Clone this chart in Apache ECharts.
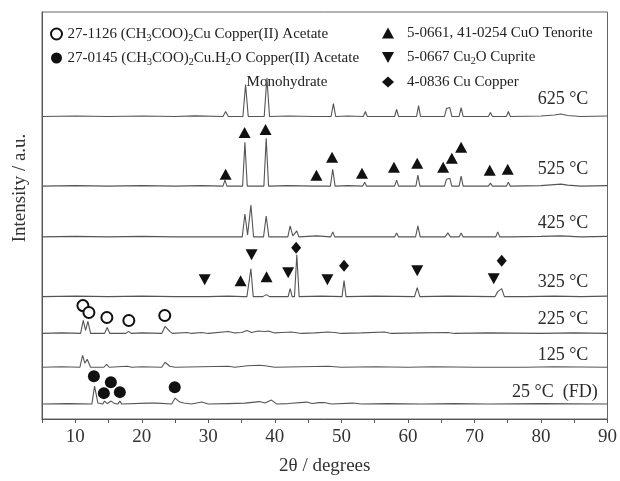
<!DOCTYPE html>
<html style="height: 100%">
<head>
<meta charset="utf-8">
</head>
<body style="height: 100%; margin: 0; background: #fff">
<div id="container" style="width: 620px; height: 481px"></div>
<script src="https://cdn.jsdelivr.net/npm/echarts@6/dist/echarts.min.js"></script>
<script>
// XRD traces, [2theta, intensity above own baseline]
var p625 = [[5,0],[10,0.5],[15,0],[20,0.5],[25,0],[28,0.6],[32.2,0],[32.6,5],[33.0,0],[35.2,0],[35.6,32],[36.0,0],[38.4,0],[38.8,39],[39.2,0],[42,0.5],[46,0],[46.3,1.5],[46.6,0],[48.45,0],[48.8,13],[49.15,0],[51,0.5],[53.3,0],[53.6,5],[53.9,0],[58.0,0],[58.3,7],[58.6,0],[61.3,0],[61.6,11],[61.9,0],[65.5,0],[65.8,8],[66.05,6],[66.3,9],[66.6,0],[67.7,0],[68.0,9],[68.3,0],[72.1,0],[72.4,4],[72.7,0],[74.8,0],[75.1,5],[75.4,0],[80,0.5],[82,1.5],[83,2.5],[84,1],[86,0],[90,0.5]];
var p525 = [[5,0],[10,0.5],[15,0],[20,0.5],[25,0],[29,0.5],[32.2,0],[32.5,6],[32.8,0],[35.15,0],[35.5,44],[35.85,0],[38.35,0],[38.7,48],[39.05,0],[42,0.5],[46.0,0],[46.3,2],[46.6,0],[48.35,0],[48.7,17],[49.05,0],[51,0.5],[53.2,0],[53.5,4],[53.8,0],[58.0,0],[58.3,6],[58.6,0],[61.2,0],[61.5,11],[61.8,0],[65.5,0],[65.8,7],[66.0,5],[66.3,8],[66.6,0],[67.7,0],[68.0,10],[68.3,0],[72.1,0],[72.4,3],[72.7,0],[74.8,0],[75.1,4],[75.4,0],[80,0.5],[82,1.5],[83,2],[84,1],[86,0],[90,0.5]];
var p425 = [[5,0],[10,0.5],[15,0],[20,0.5],[25,0],[29.3,0],[29.6,1.5],[29.9,0],[32.2,0],[32.5,2],[32.8,0],[35.1,0],[35.5,23],[35.9,2],[36.4,32],[36.8,0],[38.3,0],[38.7,21],[39.1,0],[41.95,0],[42.3,11],[42.7,1],[43.3,6],[43.6,0],[46.3,1],[48.4,0],[48.7,5],[49.0,0],[50.1,0],[50.4,2],[50.7,0],[53.2,0],[53.5,2],[53.8,0],[58.0,0],[58.3,4],[58.6,0],[61.15,0],[61.5,11],[61.85,0],[65.6,0],[66.0,4],[66.4,0],[67.7,0],[68.0,4],[68.3,0],[72.1,0],[72.4,2],[72.7,0],[73.2,0],[73.5,5],[73.8,0],[74.8,0],[75.1,2],[75.4,0],[80,0.5],[83,1],[86,0],[90,0.5]];
var p325 = [[5,0],[10,0.5],[15,0],[20,0.5],[25,0],[29.3,0],[29.6,1.5],[29.9,0],[33,0.5],[35.2,0],[35.5,2],[35.8,0],[36.05,0],[36.4,28],[36.75,0],[38.2,0],[38.7,2],[39.2,0],[42.0,0],[42.3,8],[42.6,0],[42.95,0],[43.3,42],[43.65,0],[47,0.5],[50.1,0],[50.4,16],[50.7,0],[55,0.5],[61.0,0],[61.4,9],[61.8,0],[66,0.5],[73.1,0],[73.5,5],[73.8,3],[74.1,8],[74.5,0],[77.0,0],[77.3,1],[77.6,0],[82,0.5],[86,0],[90,0.5]];
var p225 = [[5,0],[8,0.5],[10.8,0],[11.2,13],[11.55,3],[11.9,12],[12.3,0],[14.4,0],[14.8,6],[15.2,0],[17.6,0],[18.0,2],[18.4,0],[20,0.5],[23.0,0],[23.5,7],[24.2,2],[24.6,0],[26.8,1],[27.5,0],[29,1],[30,0],[33,2],[34,0.5],[35,1],[35.8,3],[36.5,1],[37.5,2.5],[37.8,3],[38.5,2],[39,2.5],[40,0.5],[41,1],[42.5,1.5],[44,0],[46,0.5],[48,1.5],[49,1],[50,0],[53,0.5],[56.5,1.5],[57.5,0],[62,0.5],[66,1],[67,0],[72,0.5],[80,0],[85,0.5],[90,0]];
var p125 = [[5,0],[8,0.5],[10.7,0],[11.1,12],[11.45,4],[11.8,8],[12.3,0],[14.3,0],[14.7,3],[15.1,0],[17.8,1],[18.5,0],[20,0.5],[23.0,0],[23.5,5],[24.2,1],[25,0],[29,0.5],[33,1],[34,0],[35.9,1.5],[37.7,2],[38.5,1.5],[40,0],[44,0.5],[48,1],[50,0],[55,0.5],[60,0],[64,0.5],[70,0],[77.1,0],[77.4,2],[77.7,0],[82,0.5],[90,0]];
var p25 = [[5,0],[9,0.5],[12.5,0],[12.9,18],[13.4,1],[14.1,0],[14.4,3],[14.8,0.5],[15.4,3],[15.9,0.5],[16.4,0],[16.7,3],[17.0,0],[20.9,1],[22.3,1],[24.5,0],[25.0,6],[25.7,2],[26.3,1],[27.5,0],[29,2],[30,0],[33,0.5],[35.5,1],[37.7,2.5],[38.5,1],[39.5,4],[40.3,0],[42,0.5],[44.8,2],[45.6,0.5],[46.7,1.5],[47.4,1.5],[48.5,0],[51.7,1],[53,0],[57,0.5],[62,0],[67,0.5],[72,0],[80,0.5],[90,0]];

var patterns = [p625, p525, p425, p325, p225, p125, p25];
var offsets = [304, 234, 183, 123, 86, 52, 15];
var tempLabels = ['625 °C', '525 °C', '425 °C', '325 °C', '225 °C', '125 °C', '25 °C  (FD)'];
var labelPos = [[87.2, 321], [87.2, 251], [87.2, 197], [87.2, 137], [87.2, 100], [87.2, 64], [88.6, 27]];

// phase markers, [2theta, stacked intensity]
var acetate = [[11.15, 114], [12.05, 107], [14.75, 102], [18.05, 99], [23.45, 104]];
var monohydrate = [[12.8, 43], [14.3, 26], [15.35, 37], [16.7, 27], [24.95, 32]];
var tenorite = [[34.85, 139], [38.75, 143], [32.6, 246], [35.45, 288], [38.6, 291], [46.25, 245], [48.6, 263], [53.1, 247], [57.9, 253], [61.4, 257], [65.3, 253], [66.6, 262], [68.0, 273], [72.3, 250], [75.0, 251]];
var cuprite = [[29.45, 140], [36.5, 165], [42.0, 147], [47.9, 140], [61.4, 149], [72.9, 141]];
var copper = [[43.2, 172], [50.4, 154], [74.1, 159]];

var xTicks = [10, 20, 30, 40, 50, 60, 70, 80, 90];

var serif = 'Liberation Serif';
var ink = '#111';
var downTri = 'path://M0,0L12,0L6,11Z';

var series = patterns.map(function (p, i) {
    return {
        type: 'line',
        symbol: 'none',
        silent: true,
        lineStyle: { color: '#555', width: 1.1 },
        data: p.map(function (d) { return [d[0], d[1] + offsets[i]]; })
    };
});
series.push({
    type: 'scatter',
    silent: true,
    symbolSize: 1,
    itemStyle: { color: 'rgba(0,0,0,0)', opacity: 1 },
    label: {
        show: true, position: 'left', distance: 0,
        fontFamily: serif, fontSize: 18, color: '#2a2a2a',
        formatter: function (p) { return tempLabels[p.dataIndex]; }
    },
    data: labelPos
});
var markerDefs = [
    { name: 'acetate', symbol: 'emptyCircle', size: 11, data: acetate },
    { name: 'monohydrate', symbol: 'circle', size: 12, data: monohydrate },
    { name: 'tenorite', symbol: 'triangle', size: [12, 11], data: tenorite },
    { name: 'cuprite', symbol: downTri, size: [12, 11], data: cuprite },
    { name: 'copper', symbol: 'diamond', size: [10, 12], data: copper }
];
markerDefs.forEach(function (m) {
    series.push({
        name: m.name,
        type: 'scatter',
        symbol: m.symbol,
        symbolSize: m.size,
        itemStyle: { color: ink, opacity: 1, borderColor: ink, borderWidth: m.symbol === 'emptyCircle' ? 1.5 : 0 },
        data: m.data
    });
});

var legendText = {
    acetate: '27-1126 (CH{s|3}COO){s|2}Cu Copper(II) Acetate',
    monohydrate: '27-0145 (CH{s|3}COO){s|2}Cu.H{s|2}O Copper(II) Acetate',
    tenorite: '5-0661, 41-0254 CuO Tenorite',
    cuprite: '5-0667 Cu{s|2}O Cuprite',
    copper: '4-0836 Cu Copper'
};
var legendStyle = {
    fontFamily: serif, fontSize: 15, color: '#222', lineHeight: 18,
    rich: { s: { fontFamily: serif, fontSize: 10, color: '#222', verticalAlign: 'bottom', lineHeight: 14 } }
};

var dom = document.getElementById('container');
var myChart = echarts.init(dom);
var option = {
    animation: false,
    grid: { left: 42, right: 11, top: 12, bottom: 60, show: true, borderColor: '#666', borderWidth: 1 },
    legend: [
        {
            data: ['acetate', 'monohydrate'], orient: 'vertical', left: 45, top: 20,
            itemWidth: 12, itemHeight: 11, itemGap: 6, selectedMode: false,
            itemStyle: { opacity: 1 },
            textStyle: legendStyle,
            formatter: function (n) { return legendText[n]; }
        },
        {
            data: ['tenorite', 'cuprite', 'copper'], orient: 'vertical', left: 377, top: 19,
            itemWidth: 12, itemHeight: 11, itemGap: 6.5, selectedMode: false,
            itemStyle: { opacity: 1 },
            textStyle: Object.assign({ padding: [0, 0, 0, 8] }, legendStyle),
            formatter: function (n) { return legendText[n]; }
        }
    ],
    xAxis: {
        type: 'value', min: 5, max: 90, interval: 5,
        name: '2θ / degrees', nameLocation: 'middle', nameGap: 38,
        nameTextStyle: { fontFamily: serif, fontSize: 19, color: '#333' },
        axisLine: { lineStyle: { color: '#555' } },
        axisTick: { show: true, length: 4, lineStyle: { color: '#555' } },
        axisLabel: {
            fontFamily: serif, fontSize: 19, color: '#333', margin: 9,
            formatter: function (v) { return xTicks.indexOf(v) >= 0 ? String(v) : ''; }
        },
        splitLine: { show: false }
    },
    yAxis: {
        type: 'value', min: 0, max: 409,
        axisLine: { show: true, lineStyle: { color: '#555' } },
        axisTick: { show: false }, axisLabel: { show: false }, splitLine: { show: false }
    },
    graphic: [
        {
            type: 'text', x: 20, y: 188, rotation: Math.PI / 2,
            style: { text: 'Intensity / a.u.', fontFamily: serif, fontSize: 19, fill: '#333', align: 'center', verticalAlign: 'middle' }
        },
        {
            type: 'text', x: 287, y: 82,
            style: { text: 'Monohydrate', fontFamily: serif, fontSize: 15, fill: '#222', align: 'center', verticalAlign: 'middle' }
        }
    ],
    series: series
};
myChart.setOption(option);
</script>
</body>
</html>
